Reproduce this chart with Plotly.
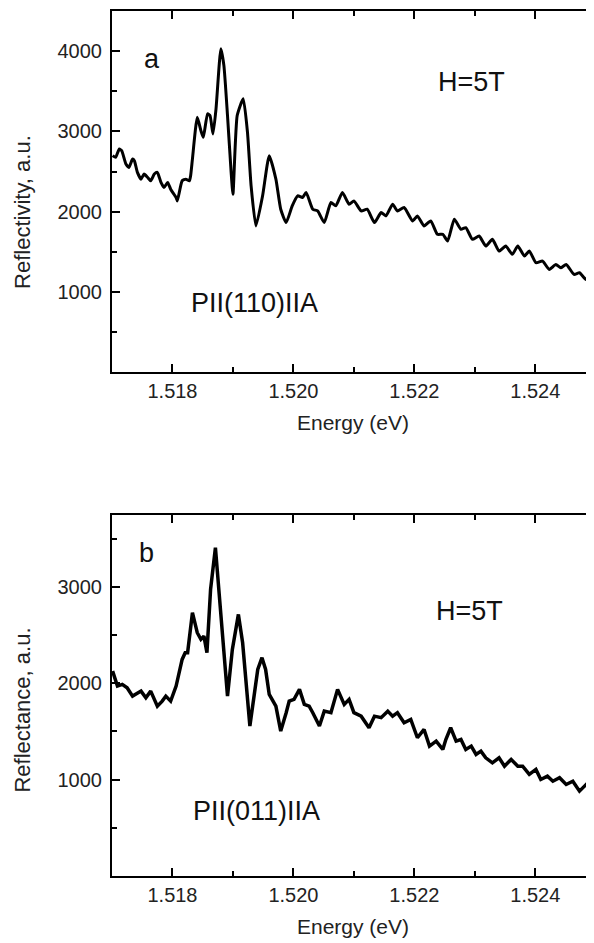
import plotly.graph_objects as go

# ---- data ----
energy_a = [1.51701, 1.51706, 1.51712, 1.51716, 1.51723, 1.51728, 1.51734, 1.51737, 1.51742, 1.51748,
            1.51753, 1.51759, 1.51764, 1.51770, 1.51775, 1.51781, 1.51786, 1.51792, 1.51797, 1.51806,
            1.51808, 1.51816, 1.51822, 1.51828, 1.51830, 1.51833, 1.51841, 1.51847, 1.51851, 1.51858,
            1.51862, 1.51867, 1.51872, 1.51880, 1.51885, 1.51891, 1.51897, 1.51900, 1.51907, 1.51917,
            1.51924, 1.51930, 1.51938, 1.51949, 1.51960, 1.51971, 1.51979, 1.51988, 1.51998, 1.52007,
            1.52015, 1.52021, 1.52032, 1.52040, 1.52051, 1.52062, 1.52070, 1.52081, 1.52092, 1.52100,
            1.52112, 1.52122, 1.52134, 1.52145, 1.52153, 1.52164, 1.52172, 1.52183, 1.52197, 1.52205,
            1.52216, 1.52227, 1.52238, 1.52247, 1.52255, 1.52266, 1.52277, 1.52285, 1.52296, 1.52307,
            1.52318, 1.52329, 1.52340, 1.52351, 1.52362, 1.52371, 1.52382, 1.52390, 1.52401, 1.52412,
            1.52423, 1.52434, 1.52442, 1.52451, 1.52464, 1.52473, 1.52484, 1.52495]
refl_a = [2698, 2677, 2781, 2760, 2594, 2552, 2656, 2635, 2490, 2406,
          2469, 2427, 2385, 2469, 2490, 2365, 2302, 2365, 2281, 2177,
          2135, 2385, 2406, 2385, 2448, 2656, 3177, 3010, 2927, 3219,
          3198, 2969, 3281, 4031, 3823, 3198, 2490, 2219, 3198, 3406,
          2990, 2323, 1823, 2198, 2698, 2406, 2031, 1865, 2073, 2198,
          2177, 2240, 2031, 2010, 1865, 2115, 2073, 2240, 2094, 2135,
          2010, 2031, 1865, 1990, 1948, 2094, 2010, 2052, 1885, 1948,
          1823, 1885, 1719, 1719, 1635, 1906, 1781, 1802, 1656, 1698,
          1573, 1656, 1510, 1573, 1469, 1573, 1448, 1510, 1365, 1385,
          1281, 1344, 1302, 1344, 1219, 1240, 1156, 1260]

energy_b = [1.51701, 1.51709, 1.51717, 1.51725, 1.51734, 1.51742, 1.51748, 1.51756, 1.51764, 1.51775,
            1.51783, 1.51789, 1.51797, 1.51806, 1.51811, 1.51816, 1.51821, 1.51825, 1.51833, 1.51841,
            1.51847, 1.51852, 1.51857, 1.51863, 1.51871, 1.51877, 1.51883, 1.51888, 1.51891, 1.51899,
            1.51909, 1.51916, 1.51928, 1.51941, 1.51948, 1.51954, 1.51960, 1.51971, 1.51979, 1.51988,
            1.51993, 1.52001, 1.52010, 1.52018, 1.52026, 1.52032, 1.52043, 1.52051, 1.52062, 1.52073,
            1.52084, 1.52092, 1.52100, 1.52112, 1.52125, 1.52134, 1.52145, 1.52156, 1.52164, 1.52172,
            1.52183, 1.52194, 1.52205, 1.52216, 1.52225, 1.52236, 1.52247, 1.52252, 1.52260, 1.52269,
            1.52277, 1.52285, 1.52294, 1.52302, 1.52310, 1.52318, 1.52329, 1.52340, 1.52349, 1.52360,
            1.52371, 1.52379, 1.52390, 1.52401, 1.52409, 1.52420, 1.52429, 1.52440, 1.52451, 1.52462,
            1.52473, 1.52484, 1.52495]
refl_b = [2127, 1971, 1989, 1954, 1867, 1902, 1919, 1850, 1919, 1763,
          1815, 1867, 1815, 1971, 2110, 2248, 2318, 2318, 2733, 2525,
          2456, 2490, 2318, 2975, 3408, 2941, 2560, 2075, 1867, 2352,
          2715, 2421, 1556, 2144, 2266, 2144, 1885, 1763, 1504, 1695,
          1815, 1833, 1937, 1781, 1763, 1695, 1556, 1711, 1695, 1937,
          1781, 1833, 1695, 1659, 1539, 1659, 1643, 1711, 1659, 1695,
          1591, 1625, 1435, 1521, 1348, 1400, 1314, 1417, 1539, 1400,
          1417, 1314, 1348, 1262, 1296, 1227, 1175, 1227, 1140, 1210,
          1140, 1140, 1054, 1106, 1002, 1036, 984, 1020, 950, 984,
          881, 950, 881]

x_ticks = [1.518, 1.520, 1.522, 1.524]
x_minor = [1.519, 1.521, 1.523]
ya_ticks = [1000, 2000, 3000, 4000]
ya_minor = [500, 1500, 2500, 3500]
yb_ticks = [1000, 2000, 3000]
yb_minor = [500, 1500, 2500, 3500]

FONT = "Liberation Sans, Arial, sans-serif"

# page body adds an 8px offset; figure is sized so that it ends at the window edges
W, H = 586, 935
ML, MT, MB = 104, 3, 66.5
PLOT_W = W - ML
PLOT_H = H - MT - MB

fig = go.Figure()
fig.add_trace(go.Scatter(x=energy_a, y=refl_a, mode="lines", xaxis="x", yaxis="y",
                         line=dict(color="black", width=3, shape="spline", smoothing=0.5),
                         showlegend=False))
fig.add_trace(go.Scatter(x=energy_b, y=refl_b, mode="lines", xaxis="x2", yaxis="y2",
                         line=dict(color="black", width=3.5), showlegend=False))

xcommon = dict(range=[1.517, 1.52497], tickmode="array", tickvals=x_ticks,
               ticktext=[f"{v:.3f}" for v in x_ticks],
               ticks="inside", ticklen=8, tickwidth=2, tickcolor="black",
               minor=dict(tickvals=x_minor, ticks="inside", ticklen=5, tickwidth=2, tickcolor="black"),
               showline=True, linecolor="black", linewidth=2, mirror="ticks",
               showgrid=False, zeroline=False,
               tickfont=dict(family=FONT, size=20, color="#222"),
               title=dict(text="Energy (eV)", font=dict(family=FONT, size=21, color="#222"), standoff=14))
ycommon = dict(ticks="inside", ticklen=8, tickwidth=2, tickcolor="black",
               showline=True, linecolor="black", linewidth=2, mirror=False,
               showgrid=False, zeroline=False, tickmode="array",
               tickfont=dict(family=FONT, size=20, color="#222"), ticklabelstandoff=4)

fig.update_layout(
    width=W, height=H,
    margin=dict(l=ML, r=0, t=MT, b=MB),
    paper_bgcolor="white", plot_bgcolor="white",
    xaxis=dict(**xcommon, domain=[0, 1], anchor="y"),
    yaxis=dict(**ycommon, domain=[0.5823, 1], range=[0, 4500], tickvals=ya_ticks,
               minor=dict(tickvals=ya_minor, ticks="inside", ticklen=5, tickwidth=2, tickcolor="black"),
               anchor="x"),
    xaxis2=dict(**xcommon, domain=[0, 1], anchor="y2"),
    yaxis2=dict(**ycommon, domain=[0, 0.4177], range=[0, 3750], tickvals=yb_ticks,
                minor=dict(tickvals=yb_minor, ticks="inside", ticklen=5, tickwidth=2, tickcolor="black"),
                anchor="x2"),
)

ann_font = dict(family=FONT, size=27, color="#111")
anns = [
    dict(x=1.51766, y=3906, xref="x", yref="y", text="a"),
    dict(x=1.52294, y=3619, xref="x", yref="y", text="H=5T"),
    dict(x=1.51936, y=869, xref="x", yref="y", text="PII(110)IIA"),
    dict(x=1.51757, y=3349, xref="x2", yref="y2", text="b"),
    dict(x=1.52291, y=2747, xref="x2", yref="y2", text="H=5T"),
    dict(x=1.51939, y=670, xref="x2", yref="y2", text="PII(011)IIA"),
]
for a in anns:
    fig.add_annotation(**a, showarrow=False, font=ann_font, xanchor="center", yanchor="middle")


def paper_pos(sx, sy):
    # screen pixel -> paper coordinates (figure drawn 8px from window corner)
    fx, fy = sx - 8, sy - 8
    return (fx - ML) / PLOT_W, (MT + PLOT_H - fy) / PLOT_H


for title, sx, sy in [("Reflectivity, a.u.", 23, 212), ("Reflectance, a.u.", 23, 711)]:
    px, py = paper_pos(sx, sy)
    fig.add_annotation(x=px, y=py, xref="paper", yref="paper", text=title,
                       showarrow=False, textangle=-90, xanchor="center", yanchor="middle",
                       font=dict(family=FONT, size=22, color="#222"))

fig.write_html("out.html")
